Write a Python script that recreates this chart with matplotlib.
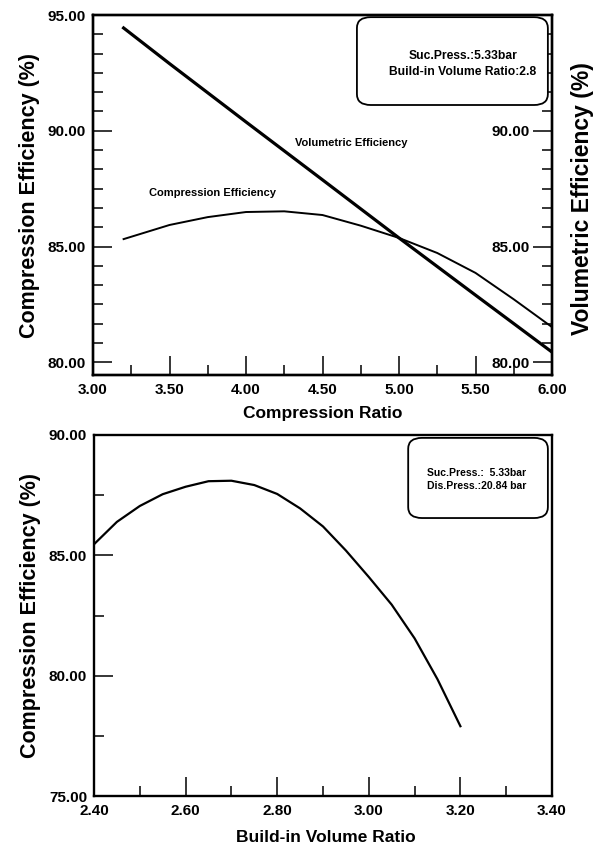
import numpy as np
import matplotlib
matplotlib.use('Agg')
from matplotlib import pyplot as plt
from matplotlib import font_manager
from matplotlib.patches import FancyBboxPatch
from matplotlib.ticker import FixedLocator, MultipleLocator, FormatStrFormatter

# top panel: efficiency vs compression ratio
cr_comp = [3.2, 3.5, 3.75, 4.0, 4.25, 4.5, 4.75, 5.0, 5.25, 5.5, 5.75, 6.0]
comp_eff = [85.32, 85.93, 86.27, 86.49, 86.52, 86.36, 85.9, 85.37, 84.72, 83.86, 82.72, 81.52]
cr_vol = [3.2, 3.5, 4.0, 4.5, 5.0, 5.5, 6.0]
vol_eff = [94.44, 92.9, 90.38, 87.88, 85.37, 82.9, 80.44]

# bottom panel: efficiency vs build-in volume ratio
bvr = [2.4, 2.45, 2.5, 2.55, 2.6, 2.65, 2.7, 2.75, 2.8, 2.85, 2.9, 2.95, 3.0, 3.05, 3.1, 3.15, 3.2]
bvr_eff = [85.46, 86.39, 87.05, 87.54, 87.85, 88.08, 88.1, 87.92, 87.55, 86.95, 86.2,
           85.2, 84.1, 82.95, 81.55, 79.85, 77.9]

names = {f.name for f in font_manager.fontManager.ttflist}
narrow = 'Liberation Sans Narrow' if 'Liberation Sans Narrow' in names else 'Liberation Sans'
wide = 'Liberation Sans'

plt.rcParams['font.family'] = [narrow, 'DejaVu Sans']
plt.rcParams['font.weight'] = 'bold'
plt.rcParams['axes.labelweight'] = 'bold'

fig = plt.figure(figsize=(6.01, 8.51), dpi=100)

def style(ax, pad_x=6, pad_y=5):
    for s in ax.spines.values():
        s.set_linewidth(1.7)
    ax.tick_params(which='both', direction='in', width=1.1, labelsize=11)
    ax.tick_params(which='major', length=14)
    ax.tick_params(which='minor', length=7)
    ax.tick_params(axis='x', pad=pad_x, top=False)
    ax.tick_params(axis='y', pad=pad_y, right=False)
    ax.xaxis.set_major_formatter(FormatStrFormatter('%.2f'))
    ax.yaxis.set_major_formatter(FormatStrFormatter('%.2f'))

# ---- top ----
ax1 = fig.add_axes([93/601, 1-375/851, 459/601, 360/851])
ax1.plot(cr_comp, comp_eff, color='black', lw=1.4)
ax1.set_xlim(3.0, 6.0)
ax1.set_ylim(79.45, 95.0)
style(ax1)
ax1.xaxis.set_major_locator(MultipleLocator(0.5))
ax1.xaxis.set_minor_locator(FixedLocator([3.25, 3.75, 4.25, 4.75, 5.25, 5.75]))
ax1.yaxis.set_major_locator(FixedLocator([80, 85, 90, 95]))
minor_y = [v for v in np.arange(80, 95.01, 5/6) if abs(v - round(v/5)*5) > 0.01]
ax1.yaxis.set_minor_locator(FixedLocator(minor_y))
ax1.set_xlabel('Compression Ratio', fontsize=12.5)
ax1.xaxis.set_label_coords(0.5, -0.085)
ax1.set_ylabel('Compression Efficiency (%)', fontsize=15.5, family=[wide, 'DejaVu Sans'])
ax1.yaxis.set_label_coords(-0.115, 0.5)

ax2 = ax1.twinx()
ax2.plot(cr_vol, vol_eff, color='black', lw=2.3)
ax2.set_ylim(79.45, 95.0)
for s in ax2.spines.values():
    s.set_linewidth(1.7)
ax2.yaxis.set_major_locator(FixedLocator([80, 85, 90]))
ax2.yaxis.set_minor_locator(FixedLocator(minor_y))
ax2.yaxis.set_major_formatter(FormatStrFormatter('%.2f'))
ax2.tick_params(which='both', direction='in', width=1.1, labelsize=11, pad=-16)
ax2.tick_params(which='major', length=14)
ax2.tick_params(which='minor', length=7)
for t in ax2.yaxis.get_major_ticks():
    t.label2.set_horizontalalignment('right')
fig.text(582/601, 1-199/851, 'Volumetric Efficiency (%)', fontsize=16.5,
         family=[wide, 'DejaVu Sans'], rotation=90, ha='center', va='center')

ax1.text(4.69, 89.47, 'Volumetric Efficiency', fontsize=8, ha='center', va='center')
ax1.text(3.78, 87.31, 'Compression Efficiency', fontsize=8, ha='center', va='center')

box1 = FancyBboxPatch((0.575, 0.75), 0.416, 0.244, boxstyle='round,pad=0,rounding_size=0.03',
                      transform=ax1.transAxes, fc='white', ec='black', lw=1.3, zorder=5)
ax2.add_patch(box1)
ax2.text(0.806, 0.865, 'Suc.Press.:5.33bar\nBuild-in Volume Ratio:2.8', transform=ax1.transAxes,
         fontsize=8.7, ha='center', va='center', linespacing=1.45, zorder=6)

# ---- bottom ----
ax3 = fig.add_axes([94/601, 1-796/851, 458/601, 361/851])
ax3.plot(bvr, bvr_eff, color='black', lw=1.6)
ax3.set_xlim(2.4, 3.4)
ax3.set_ylim(75, 90)
style(ax3)
ax3.xaxis.set_major_locator(MultipleLocator(0.2))
ax3.xaxis.set_minor_locator(FixedLocator([2.5, 2.7, 2.9, 3.1, 3.3]))
ax3.yaxis.set_major_locator(MultipleLocator(5))
ax3.yaxis.set_minor_locator(FixedLocator([77.5, 82.5, 87.5]))
ax3.set_xlabel('Build-in Volume Ratio', fontsize=12.5)
ax3.xaxis.set_label_coords(0.507, -0.094)
ax3.set_ylabel('Compression Efficiency (%)', fontsize=15.5, family=[wide, 'DejaVu Sans'])
ax3.yaxis.set_label_coords(-0.115, 0.5)

box2 = FancyBboxPatch((0.686, 0.770), 0.305, 0.222, boxstyle='round,pad=0,rounding_size=0.03',
                      transform=ax3.transAxes, fc='white', ec='black', lw=1.3, zorder=5)
ax3.add_patch(box2)
ax3.text(0.727, 0.877, 'Suc.Press.:  5.33bar\nDis.Press.:20.84 bar', transform=ax3.transAxes,
         fontsize=7.5, ha='left', va='center', linespacing=1.3, zorder=6)

plt.savefig('out.png', dpi=100)
